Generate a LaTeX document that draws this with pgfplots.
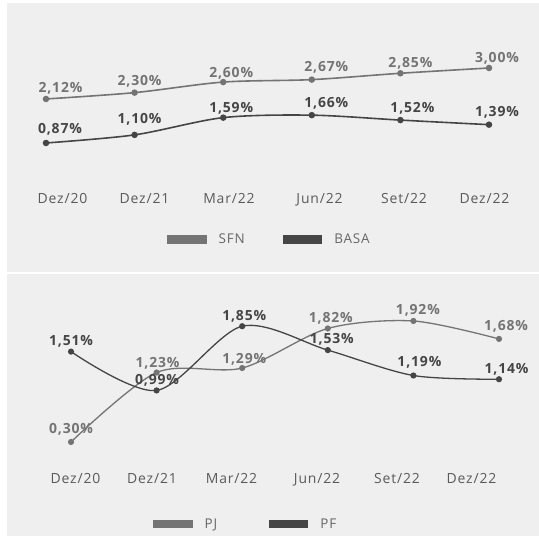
\documentclass[border=0pt]{standalone}
\usepackage{fontspec}
\setmainfont{Open Sans}[LetterSpace=6]
\usepackage{pgfplots}
\usepackage{pgfplotstable}
\pgfplotsset{compat=1.18}
\definecolor{bg}{HTML}{EFEFEF}
\definecolor{ca}{HTML}{747474}
\definecolor{cb}{HTML}{454545}
\definecolor{lt}{HTML}{5A5A5A}
\definecolor{lg}{HTML}{666666}

\pgfplotstableread{
x y dx dy
0 2.12 14.5 11.5
1 2.30 5 12
2 2.60 8 10
3 2.67 14.5 13
4 2.85 10 11
5 3.00 8 10
}\sfn
\pgfplotstableread{
x y dx dy
0 0.87 14 14
1 1.10 5 16
2 1.59 8 10.5
3 1.66 14.5 13
4 1.52 12 13
5 1.39 8 13
}\basa
\pgfplotstableread{
x y dx dy
0 0.30 0 13.5
1 1.23 1 10.5
2 1.29 2 9.5
3 1.82 3 10.5
4 1.92 4.5 11.5
5 1.68 7 13
}\pj
\pgfplotstableread{
x y dx dy
0 1.51 0 11
1 0.99 0.5 10.5
2 1.85 2 10.5
3 1.53 4 12
4 1.19 6 14.5
5 1.14 7.5 10.5
}\pf

\pgfplotsset{
  panel/.style={scale only axis, clip=false,
    axis line style={draw=none}, major tick style={draw=none},
    ytick=\empty, xmin=0, xmax=5, ymin=0,
    /pgf/number format/assume math mode=true,
    xticklabel style={anchor=base, font=\fontsize{14}{16}\selectfont, text=lt},
    legend style={draw=none, fill=none, inner sep=0pt, legend columns=2,
      font=\fontsize{13.5}{16}\selectfont, text=lg},
    legend cell align=left,
    legend image code/.code={\fill (0bp,-3.5bp) rectangle (38bp,3.5bp); \path (48bp,0bp);},
  },
  ser/.style={smooth, line width=1.6bp, color=#1, mark=*, mark size=2.4bp,
    mark options={solid, fill=#1},
    point meta=y,
    visualization depends on={\thisrow{dx}\as\dx},
    visualization depends on={\thisrow{dy}\as\dy},
    nodes near coords={\pgfmathprintnumber[use comma,fixed,fixed zerofill,precision=2]{\pgfplotspointmeta}\%},
    nodes near coords style={anchor=base, font=\bfseries\fontsize{14}{16}\selectfont,
      text=#1, inner sep=0pt, xshift=\dx bp, yshift=\dy bp-5bp},
  },
}

\begin{document}
\begin{tikzpicture}
\useasboundingbox (0,0) rectangle (539bp,536bp);
\fill[white] (0,0) rectangle (539bp,536bp);
\fill[bg] (7bp,264bp) rectangle (539bp,533bp);
\fill[bg] (7bp,0bp) rectangle (539bp,262bp);

\begin{axis}[panel, at={(46bp,362.4bp)}, anchor=south west,
  width=443bp, height=105.6bp, ymax=3,
  xtick={0.186,1.112,2.065,3.087,4.041,4.949},
  xticklabels={Dez/20,Dez/21,Mar/22,Jun/22,Set/22,Dez/22},
  xticklabel style={yshift=-29.7bp},
  legend style={at={(0.273,-0.624)}, anchor=west,
    /tikz/every even column/.append style={column sep=36bp}},
]
\addplot[ser=ca] table {\sfn};
\addlegendentry{SFN}
\addplot[ser=cb] table {\basa};
\addlegendentry{BASA}
\end{axis}

\begin{axis}[panel, at={(71bp,71.6bp)}, anchor=south west,
  width=428bp, height=149.4bp, ymax=2,
  xtick={0.053,0.946,1.875,2.874,3.808,4.679},
  xticklabels={Dez/20,Dez/21,Mar/22,Jun/22,Set/22,Dez/22},
  xticklabel style={yshift=-18.9bp},
  legend style={at={(0.192,-0.399)}, anchor=west,
    /tikz/every even column/.append style={column sep=50bp}},
]
\addplot[ser=ca, line width=1.3bp] table {\pj};
\addlegendentry{PJ}
\addplot[ser=cb, line width=1.3bp] table {\pf};
\addlegendentry{PF}
\end{axis}
\end{tikzpicture}
\end{document}
